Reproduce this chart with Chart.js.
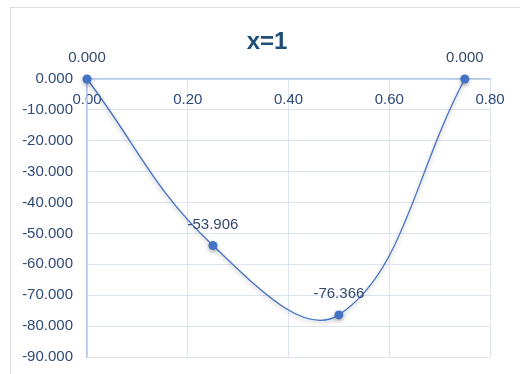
<!DOCTYPE html>
<html>
<head>
<meta charset="utf-8">
<script src="https://cdn.jsdelivr.net/npm/chart.js@4"></script>
<style>
html,body{margin:0;padding:0;background:#fff;}
#wrap{width:520px;height:374px;position:relative;}
</style>
</head>
<body>
<div id="wrap"><canvas id="c" width="520" height="374"></canvas></div>
<script>
const titleText = "x=1";
const xValues = [0, 0.25, 0.5, 0.75];
const yValues = [0.000, -53.906, -76.366, 0.000];
const xTicks = [0, 0.2, 0.4, 0.6, 0.8];
const yTicks = [0, -10, -20, -30, -40, -50, -60, -70, -80, -90];

const points = xValues.map((x, i) => ({x: x, y: yValues[i]}));

const framePlugin = {
  id: 'frame',
  beforeDraw(chart) {
    const ctx = chart.ctx;
    ctx.save();
    ctx.fillStyle = '#ffffff';
    ctx.fillRect(0, 0, chart.width, chart.height);
    ctx.strokeStyle = '#D9DEE8';
    ctx.lineWidth = 1;
    ctx.strokeRect(10.5, 7.5, 540, 400);
    ctx.restore();
  },
  afterDraw(chart) {
    const ctx = chart.ctx;
    ctx.save();
    ctx.font = 'bold 24px "Liberation Sans", Arial, sans-serif';
    ctx.fillStyle = '#1F4E79';
    ctx.textAlign = 'center';
    ctx.textBaseline = 'alphabetic';
    ctx.fillText(titleText, 267, 49);
    ctx.restore();
  }
};

const labelPlugin = {
  id: 'dlabels',
  afterDatasetsDraw(chart) {
    const ctx = chart.ctx;
    const meta = chart.getDatasetMeta(0);
    ctx.save();
    ctx.font = '15px "Liberation Sans", Arial, sans-serif';
    ctx.fillStyle = '#34496E';
    ctx.textAlign = 'center';
    ctx.textBaseline = 'middle';
    meta.data.forEach((pt, i) => {
      ctx.fillText(yValues[i].toFixed(3), pt.x, pt.y - 21);
    });
    ctx.restore();
  }
};

const shadowPlugin = {
  id: 'shadow',
  beforeDatasetDraw(chart) {
    const ctx = chart.ctx;
    ctx.save();
    ctx.shadowColor = 'rgba(0,0,0,0.30)';
    ctx.shadowBlur = 4;
    ctx.shadowOffsetY = 2;
  },
  afterDatasetDraw(chart) {
    chart.ctx.restore();
  }
};

new Chart(document.getElementById('c'), {
  type: 'scatter',
  data: {
    datasets: [{
      data: points,
      showLine: true,
      borderColor: '#4472C4',
      borderWidth: 1.3,
      backgroundColor: '#4472C4',
      pointBackgroundColor: '#4472C4',
      pointBorderColor: '#4472C4',
      pointRadius: 4.5,
      pointBorderWidth: 0,
      tension: 0.4,
      clip: false
    }]
  },
  options: {
    responsive: false,
    animation: false,
    devicePixelRatio: 1,
    layout: {padding: {top: 79, bottom: 17, right: 30, left: 0}},
    plugins: {
      legend: {display: false},
      title: {display: false},
      tooltip: {enabled: false}
    },
    scales: {
      x: {
        type: 'linear',
        position: {y: 0},
        min: 0,
        max: 0.8,
        afterBuildTicks(scale) { scale.ticks = xTicks.map(v => ({value: v})); },
        afterFit(scale) {
          scale.height = 0;
          scale.paddingTop = 0; scale.paddingBottom = 0;
          scale.paddingLeft = 0; scale.paddingRight = 0;
        },
        ticks: {
          callback: v => Number(v).toFixed(2),
          color: '#2E4A78',
          font: {family: '"Liberation Sans", Arial, sans-serif', size: 15},
          padding: 12,
          maxRotation: 0
        },
        grid: {color: '#DCE4F2', lineWidth: 1, drawTicks: false},
        border: {color: '#B4C7E7', width: 1.5}
      },
      y: {
        type: 'linear',
        position: 'left',
        min: -90,
        max: 0,
        afterBuildTicks(scale) { scale.ticks = yTicks.map(v => ({value: v})); },
        afterFit(scale) {
          scale.width = 87;
          scale.paddingTop = 0; scale.paddingBottom = 0;
        },
        ticks: {
          callback: v => Number(v).toFixed(3),
          color: '#2E4A78',
          font: {family: '"Liberation Sans", Arial, sans-serif', size: 15},
          padding: 14
        },
        grid: {color: '#DCE4F2', lineWidth: 1, drawTicks: false},
        border: {color: '#B4C7E7', width: 1.5}
      }
    }
  },
  plugins: [framePlugin, shadowPlugin, labelPlugin]
});
</script>
</body>
</html>
